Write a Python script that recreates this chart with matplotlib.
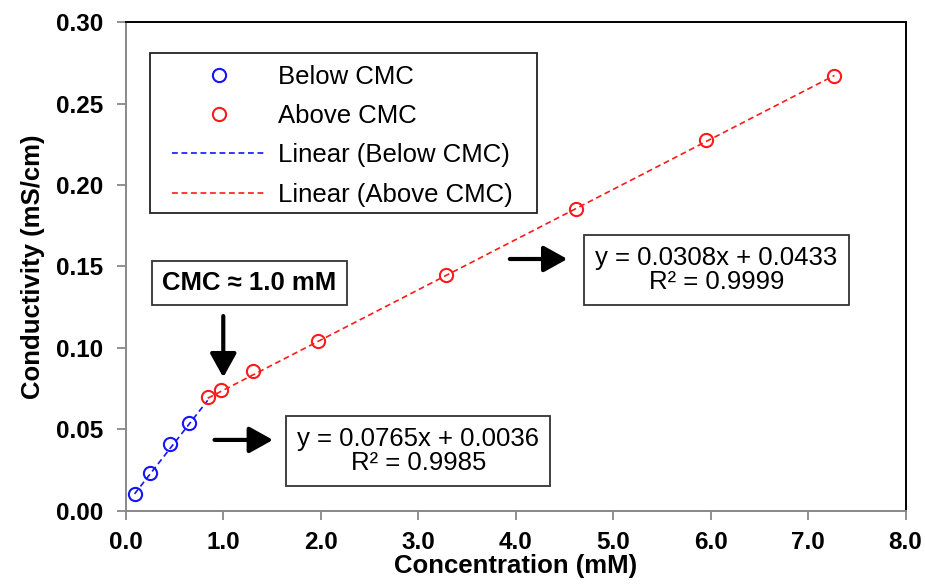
import numpy as np
import matplotlib.pyplot as plt
from matplotlib.patches import Rectangle

plt.rcParams['font.family'] = ['Liberation Sans', 'DejaVu Sans']

# data
conc_below = [0.09, 0.25, 0.45, 0.65]
cond_below = [0.0104, 0.0233, 0.0410, 0.0540]
conc_above = [0.84, 0.98, 1.31, 1.97, 3.29, 4.62, 5.95, 7.27]
cond_above = [0.0700, 0.0742, 0.0859, 0.1040, 0.1450, 0.1850, 0.2276, 0.2670]

# trendline coefficients (slope, intercept) shown on the chart
fit_below = (0.0765, 0.0036)
fit_above = (0.0308, 0.0433)
eq_below = "y = 0.0765x + 0.0036\nR\u00b2 = 0.9985"
eq_above = "y = 0.0308x + 0.0433\nR\u00b2 = 0.9999"

x_ticks = np.arange(0, 8.1, 1.0)
y_ticks = np.arange(0, 0.301, 0.05)

fig = plt.figure(figsize=(9.25, 5.87), dpi=100)
ax = fig.add_axes([0.136, 0.1295, 0.843, 0.833])

xb = np.array([conc_below[0], conc_above[0]])
xa = np.array([conc_above[0], conc_above[-1]])

blue = '#1414ff'
red = '#ff1a1a'
ax.plot(conc_below, cond_below, 'o', mfc='none', mec=blue, mew=1.5, ms=9.5,
        label='Below CMC', zorder=3)
ax.plot(conc_above, cond_above, 'o', mfc='none', mec=red, mew=1.5, ms=9.5,
        label='Above CMC', zorder=3)
ax.plot(xb, fit_below[0] * xb + fit_below[1], '--', color=blue, lw=1.2,
        dashes=(3.5, 2.2), label='Linear (Below CMC)')
ax.plot(xa, fit_above[0] * xa + fit_above[1], '--', color=red, lw=1.2,
        dashes=(3.5, 2.2), label='Linear (Above CMC)')

ax.set_xlim(0, 8)
ax.set_ylim(0, 0.30)
ax.set_xticks(x_ticks)
ax.set_xticklabels([f"{v:.1f}" for v in x_ticks])
ax.set_yticks(y_ticks)
ax.set_yticklabels([f"{v:.2f}" for v in y_ticks])
for lab in ax.get_xticklabels() + ax.get_yticklabels():
    lab.set_fontweight('bold')
    lab.set_fontsize(17.5)
ax.tick_params(direction='out', length=6.5, color='#888888', width=1.3, pad=10)
ax.tick_params(axis='x', pad=8)

for s in ['left', 'bottom']:
    ax.spines[s].set_color('#888888')
    ax.spines[s].set_linewidth(1.4)
for s in ['top', 'right']:
    ax.spines[s].set_color('black')
    ax.spines[s].set_linewidth(1.4)

ax.set_xlabel('Concentration (mM)', fontsize=18.5, fontweight='bold', labelpad=0)
ax.set_ylabel('Conductivity (mS/cm)', fontsize=18.5, fontweight='bold', labelpad=8)

# legend: entries without frame, frame drawn as a rectangle
ax.legend(loc='upper left', bbox_to_anchor=(0.059, 0.912), borderaxespad=0,
          borderpad=0, fontsize=18.5, frameon=False, handlelength=3.7,
          labelspacing=0.59, handletextpad=0.45)
ax.add_patch(Rectangle((0.0308, 0.609), 0.4962, 0.3276, transform=ax.transAxes,
                       fill=False, ec='#222222', lw=1.3, zorder=4))

ax.text(1.27, 0.140, 'CMC \u2248 1.0 mM', fontsize=18.5, fontweight='bold',
        ha='center', va='center',
        bbox=dict(boxstyle='square,pad=0.4', fc='white', ec='#333333', lw=1.3))
ax.text(6.06, 0.148, eq_above, fontsize=18.5, ha='center', va='center',
        linespacing=1.0,
        bbox=dict(boxstyle='square,pad=0.43', fc='white', ec='#333333', lw=1.3))
ax.text(3.0, 0.0368, eq_below, fontsize=18.5, ha='center', va='center',
        linespacing=1.0,
        bbox=dict(boxstyle='square,pad=0.43', fc='white', ec='#333333', lw=1.3))

arrow = dict(arrowstyle='-|>,head_width=0.4,head_length=0.72', lw=3,
             color='black', shrinkA=0, shrinkB=0, mutation_scale=20)
ax.annotate('', xy=(1.0, 0.082), xytext=(1.0, 0.1196), arrowprops=arrow)
ax.annotate('', xy=(4.53, 0.1546), xytext=(3.94, 0.1546), arrowprops=arrow)
ax.annotate('', xy=(1.51, 0.0436), xytext=(0.91, 0.0436), arrowprops=arrow)

fig.savefig('out.png', dpi=100)
